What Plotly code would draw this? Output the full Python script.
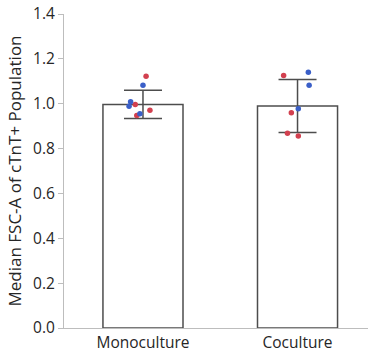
import plotly.graph_objects as go

# Group summary (mean ± SD) and individual replicate values
groups = ["Monoculture", "Coculture"]
means = [0.997, 0.99]
sds = [0.063, 0.118]

mono_red = [1.123, 0.996, 0.971, 0.948]
mono_blue = [1.082, 1.009, 0.989, 0.955]
co_red = [1.126, 0.960, 0.868, 0.856]
co_blue = [1.140, 1.082, 0.978]

# horizontal scatter offsets (category units) for the replicate dots
mono_red_jit = [0.02, -0.05, 0.045, -0.04]
mono_blue_jit = [0.0, -0.08, -0.09, -0.02]
co_red_jit = [-0.09, -0.04, -0.065, 0.005]
co_blue_jit = [0.07, 0.075, 0.005]

y_ticks = [0.0, 0.2, 0.4, 0.6, 0.8, 1.0, 1.2, 1.4]

RED = "#d2404f"
BLUE = "#3a5fc8"
GREY = "#4d4d4d"
FONT = "Open Sans"

fig = go.Figure()
fig.add_trace(go.Bar(
    x=[0, 1], y=means, width=0.518,
    marker=dict(color="white", line=dict(color=GREY, width=1.5)),
    error_y=dict(type="data", array=sds, visible=True, color=GREY,
                 thickness=1.5, width=19),
    showlegend=False,
))


def dots(base, vals, jit, color):
    fig.add_trace(go.Scatter(
        x=[base + j for j in jit], y=vals, mode="markers",
        marker=dict(color=color, size=5.5), showlegend=False,
    ))


dots(0, mono_red, mono_red_jit, RED)
dots(0, mono_blue, mono_blue_jit, BLUE)
dots(1, co_red, co_red_jit, RED)
dots(1, co_blue, co_blue_jit, BLUE)

fig.update_layout(
    width=368, height=358,
    margin=dict(l=64, r=0, t=13.5, b=30.3),
    paper_bgcolor="white", plot_bgcolor="white",
    font=dict(family=FONT, size=15.5, color="#262626"),
    xaxis=dict(range=[-0.511, 1.456], tickvals=[0, 1], ticktext=groups,
               showline=True, linecolor="#bdbdbd", linewidth=1,
               showgrid=False, zeroline=False, ticks=""),
    yaxis=dict(range=[0, 1.4], tickvals=y_ticks,
               ticktext=[f"{v:.1f}" for v in y_ticks],
               showline=True, linecolor="#bdbdbd", linewidth=1,
               ticks="outside", ticklen=5, tickcolor="#bdbdbd",
               showgrid=False, zeroline=False,
               title=dict(text="Median FSC-A of cTnT+ Population",
                          font=dict(family=FONT, size=17, color="#262626"),
                          standoff=7)),
)

fig.write_html("out.html")
